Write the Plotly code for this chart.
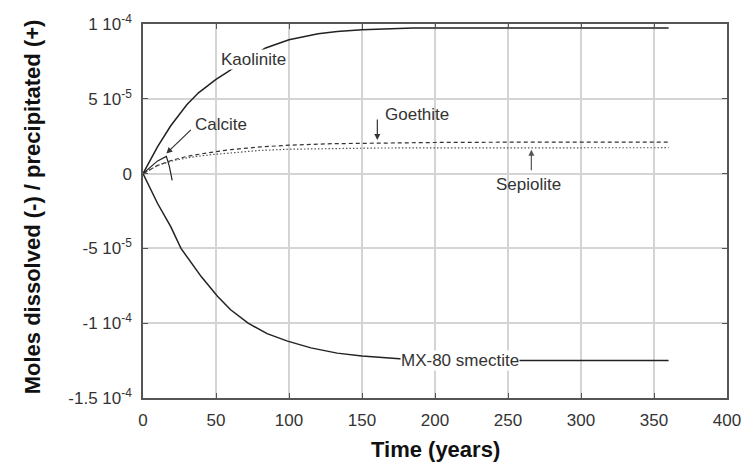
import plotly.graph_objects as go

# ---- data ----
time_kaol = [0, 5, 10, 19, 30, 38, 50, 58, 70, 84, 100, 120, 133, 150, 170, 185, 200, 250, 300, 360]
kaolinite = [0, 9.5e-6, 1.8e-5, 3.2e-5, 4.6e-5, 5.4e-5, 6.3e-5, 6.8e-5, 7.6e-5, 8.4e-5, 8.95e-5, 9.35e-5,
             9.5e-5, 9.62e-5, 9.7e-5, 9.73e-5, 9.73e-5, 9.73e-5, 9.73e-5, 9.73e-5]

time_mx = [0, 10, 19, 26, 40, 51, 60, 72, 85, 99, 115, 133, 150, 170, 185, 200, 250, 300, 360]
mx80 = [0, -2.0e-5, -3.55e-5, -5.0e-5, -6.9e-5, -8.2e-5, -9.1e-5, -1.0e-4, -1.07e-4, -1.12e-4, -1.165e-4,
        -1.2e-4, -1.22e-4, -1.235e-4, -1.245e-4, -1.25e-4, -1.25e-4, -1.25e-4, -1.25e-4]

time_min = [0, 5, 10, 20, 30, 45, 60, 80, 100, 130, 160, 200, 250, 300, 360]
goethite = [0, 3.0e-6, 5.5e-6, 9.0e-6, 1.15e-5, 1.4e-5, 1.6e-5, 1.78e-5, 1.9e-5, 2.0e-5, 2.05e-5,
            2.08e-5, 2.1e-5, 2.1e-5, 2.1e-5]
sepiolite = [0, 3.0e-6, 5.5e-6, 8.5e-6, 1.05e-5, 1.25e-5, 1.4e-5, 1.55e-5, 1.63e-5, 1.68e-5, 1.71e-5,
             1.72e-5, 1.73e-5, 1.73e-5, 1.73e-5]

time_cal = [0, 5, 10, 16, 18, 20]
calcite = [0, 4.5e-6, 8.5e-6, 1.15e-5, 5.0e-6, -4.5e-6]

x_ticks = [0, 50, 100, 150, 200, 250, 300, 350, 400]
y_ticks = [1e-4, 5e-5, 0, -5e-5, -1e-4, -1.5e-4]
y_ticktext = ["1 10<sup>-4</sup>", "5 10<sup>-5</sup>", "0", "-5 10<sup>-5</sup>",
              "-1 10<sup>-4</sup>", "-1.5 10<sup>-4</sup>"]

LINE = "#222222"
FONT = "Liberation Sans, Arial, sans-serif"

fig = go.Figure()
fig.add_trace(go.Scatter(x=time_kaol, y=kaolinite, mode="lines", name="Kaolinite",
                         line=dict(color=LINE, width=1.5)))
fig.add_trace(go.Scatter(x=time_mx, y=mx80, mode="lines", name="MX-80 smectite",
                         line=dict(color=LINE, width=1.5)))
fig.add_trace(go.Scatter(x=time_min, y=goethite, mode="lines", name="Goethite",
                         line=dict(color="#333333", width=1.2, dash="4px,3px")))
fig.add_trace(go.Scatter(x=time_min, y=sepiolite, mode="lines", name="Sepiolite",
                         line=dict(color="#555555", width=1.2, dash="1.5px,2px")))
fig.add_trace(go.Scatter(x=time_cal, y=calcite, mode="lines", name="Calcite",
                         line=dict(color=LINE, width=1.2)))

axis_common = dict(
    showgrid=True, gridcolor="#d4d4d4", gridwidth=1.5,
    zeroline=False, showline=True, linecolor="#555555", linewidth=1.5,
    mirror="ticks", ticks="inside", ticklen=5, tickcolor="#555555",
    tickfont=dict(family=FONT, size=17, color="#333333"),
)

fig.update_xaxes(range=[0, 400], tickvals=x_ticks, ticktext=[str(v) for v in x_ticks],
                 ticklabelstandoff=6, **axis_common)
fig.update_yaxes(range=[-1.5e-4, 1e-4], tickvals=y_ticks, ticktext=y_ticktext,
                 ticklabelstandoff=6, **axis_common)

ann_font = dict(family=FONT, size=17, color="#333333")
annotations = [
    dict(x=76, y=7.6e-5, text="Kaolinite", showarrow=False, bgcolor="white", borderpad=0),
    dict(x=217, y=-1.25e-4, text="MX-80 smectite", showarrow=False, bgcolor="white", borderpad=0),
    dict(x=53.3, y=3.26e-5, text="Calcite", showarrow=False),
    dict(x=16, y=1.35e-5, ax=26, ay=-25, text="", showarrow=True, arrowhead=2,
         arrowsize=1, arrowwidth=1.2, arrowcolor="#333333"),
    dict(x=188, y=3.93e-5, text="Goethite", showarrow=False),
    dict(x=160.5, y=2.25e-5, ax=0, ay=-22, text="", showarrow=True, arrowhead=2,
         arrowsize=1, arrowwidth=1.2, arrowcolor="#333333"),
    dict(x=264, y=-7.5e-6, text="Sepiolite", showarrow=False),
    dict(x=266, y=1.6e-5, ax=0, ay=22, text="", showarrow=True, arrowhead=2,
         arrowsize=1, arrowwidth=1.2, arrowcolor="#555555"),
]
for a in annotations:
    a.setdefault("font", ann_font)
    a.setdefault("xref", "x")
    a.setdefault("yref", "y")
    if a.get("showarrow"):
        a["axref"] = "pixel"
        a["ayref"] = "pixel"

# axis titles
annotations.append(dict(xref="paper", yref="paper", x=-0.19, y=0.51,
                        text="<b>Moles dissolved (-) / precipitated (+)</b>",
                        textangle=-90, showarrow=False, font=dict(family=FONT, size=22, color="#111111"),
                        xanchor="center", yanchor="middle"))
annotations.append(dict(xref="paper", yref="paper", x=0.5, y=-0.139, text="<b>Time (years)</b>",
                        showarrow=False, font=dict(family=FONT, size=22, color="#111111"),
                        xanchor="center", yanchor="middle"))

fig.update_layout(
    width=755, height=466,
    margin=dict(l=143, r=28, t=24, b=68),
    paper_bgcolor="white", plot_bgcolor="white",
    showlegend=False,
    annotations=annotations,
)

fig.write_html("out.html")
